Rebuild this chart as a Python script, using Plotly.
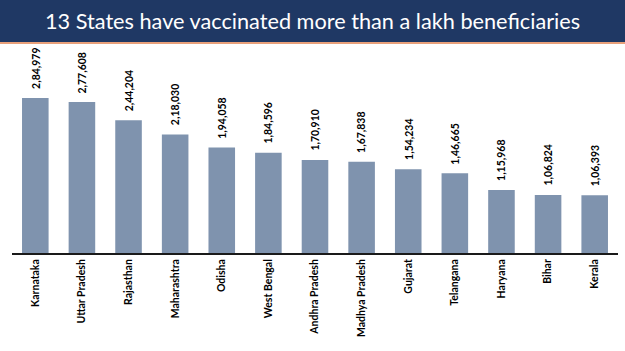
import plotly.graph_objects as go

states = ["Karnataka", "Uttar Pradesh", "Rajasthan", "Maharashtra", "Odisha", "West Bengal",
          "Andhra Pradesh", "Madhya Pradesh", "Gujarat", "Telangana", "Haryana", "Bihar", "Kerala"]
values = [284979, 277608, 244204, 218030, 194058, 184596, 170910, 167838, 154234, 146665,
          115968, 106824, 106393]
value_labels = ["2,84,979", "2,77,608", "2,44,204", "2,18,030", "1,94,058", "1,84,596", "1,70,910",
                "1,67,838", "1,54,234", "1,46,665", "1,15,968", "1,06,824", "1,06,393"]
title = "13 States have vaccinated more than a lakh beneficiaries"

W, H = 625, 351
ml, mr, mt, mb = 12, 7, 50, 98
ph = H - mt - mb
pw = W - ml - mr

def py(pix):  # pixel y from top -> paper y
    return 1 + (mt - pix) / ph

def px(pix):
    return (pix - ml) / pw

fig = go.Figure(go.Bar(
    x=states, y=values,
    marker=dict(color="#7f93ae", line=dict(width=0)), width=0.57, cliponaxis=False,
))

annotations = [dict(x=s, y=v, text=t, xref="x", yref="y", showarrow=False, textangle=-90,
                    xanchor="center", yanchor="bottom", yshift=7,
                    font=dict(family="Lato", size=10.5, color="black", weight="bold"))
               for s, v, t in zip(states, values, value_labels)]
annotations.append(dict(text=title, xref="paper", yref="paper", x=px(312), y=py(21),
                        xanchor="center", yanchor="middle", showarrow=False,
                        font=dict(family="Lato", size=21.7, color="white")))

fig.update_layout(
    width=W, height=H, margin=dict(l=ml, r=mr, t=mt, b=mb, autoexpand=False),
    paper_bgcolor="white", plot_bgcolor="white", showlegend=False,
    xaxis=dict(showline=True, linecolor="#1a1a1a", linewidth=2, tickangle=-90, ticks="",
               automargin=False,
               tickfont=dict(family="Lato", size=10.5, color="black", weight="bold")),
    yaxis=dict(visible=False, range=[0, 373500]),
    shapes=[
        dict(type="rect", xref="paper", yref="paper", x0=px(0), x1=px(W), y0=py(42), y1=py(0),
             fillcolor="#1f3864", line=dict(width=0), layer="above"),
        dict(type="rect", xref="paper", yref="paper", x0=px(0), x1=px(W), y0=py(44), y1=py(42),
             fillcolor="#e8a07a", line=dict(width=0), layer="above"),
    ],
    annotations=annotations,
)

fig.write_html("out.html")
